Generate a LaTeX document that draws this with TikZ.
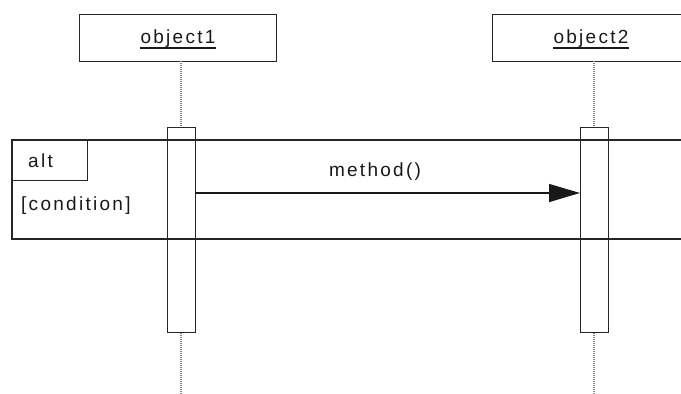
\documentclass[tikz,border=0pt]{standalone}
\usepackage{fontspec}
\newfontfamily\lblfont{Liberation Sans}[LetterSpace=12]
\usetikzlibrary{arrows.meta}
\tikzset{
  ln/.style={draw=black!85, line width=1.4pt},
  objbox/.style={ln, rectangle, minimum width=197pt, minimum height=47pt, inner sep=0pt, anchor=north west},
  actbox/.style={ln, rectangle, minimum width=28pt, minimum height=205pt, inner sep=0pt, anchor=north west},
  lbl/.style={font=\lblfont\fontsize{19}{23}\selectfont, inner sep=0pt, text=black!90},
  lifeline/.style={draw=black!50, line width=1.1pt, dash pattern=on 1pt off 1pt},
  msg/.style={ln, -{Triangle[length=31pt,width=18pt]}, color=black!90},
}
\begin{document}
\begin{tikzpicture}[x=1pt,y=-1pt]
\clip (0,0) rectangle (681,394);
\fill[white] (0,0) rectangle (681,394);
% objects
\node[objbox] (obj1) at (79,14) {};
\node[objbox] (obj2) at (492,14) {};
\node[lbl, anchor=base] (t1) at (178,43) {object1};
\node[lbl, anchor=base] (t2) at (591,43) {object2};
\draw[line width=1.2pt, black!90] ([yshift=-5pt]t1.base west) -- ([yshift=-5pt]t1.base east);
\draw[line width=1.2pt, black!90] ([yshift=-5pt]t2.base west) -- ([yshift=-5pt]t2.base east);
% activations
\node[actbox] (act1) at (167,127) {};
\node[actbox] (act2) at (580,127) {};
% lifelines
\coordinate (l1a) at (181,61);
\coordinate (l1b) at (181,394);
\coordinate (l2a) at (594,61);
\coordinate (l2b) at (594,394);
\draw[lifeline] (l1a) -- (l1a |- act1.north);
\draw[lifeline] (l1b |- act1.south) -- (l1b);
\draw[lifeline] (l2a) -- (l2a |- act2.north);
\draw[lifeline] (l2b |- act2.south) -- (l2b);
% frame
\draw[ln] (700,140) -- (12,140) -- (12,239) -- (700,239);
\node[ln, rectangle, minimum width=75pt, minimum height=40pt, inner sep=0pt, anchor=north west] (tab) at (12,140) {};
\node[lbl, anchor=base west] (alt) at (28,167) {alt};
\node[lbl, anchor=base west] (cond) at (21,210) {[condition]};
% message
\coordinate (m1) at (195,193);
\coordinate (m2) at (580,193);
\draw[msg] (m1) -- (m2);
\node[lbl, anchor=base] (mt) at (375,176) {method()};
\end{tikzpicture}
\end{document}
